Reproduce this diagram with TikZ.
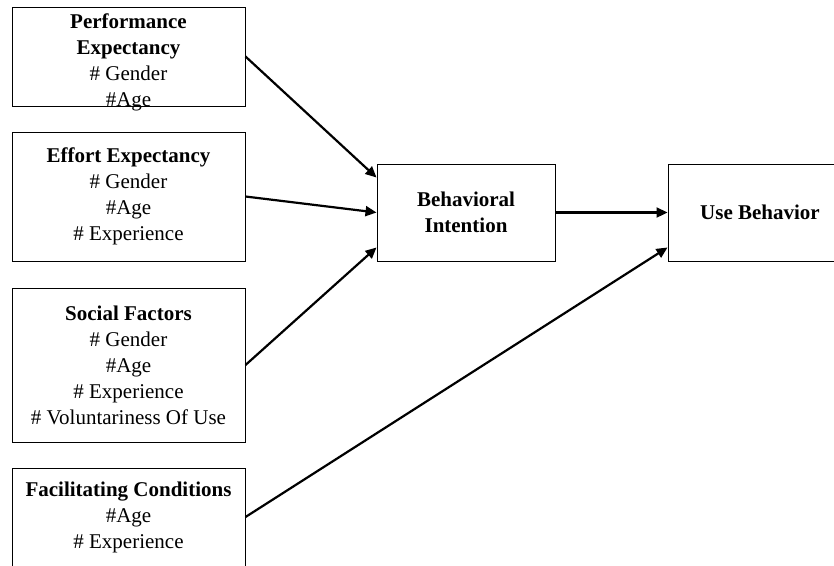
\documentclass[tikz,border=0pt]{standalone}
\usepackage{fontspec}
\setmainfont{Liberation Serif}
\usetikzlibrary{arrows.meta,positioning}

\begin{document}
\begin{tikzpicture}[x=1pt, y=-1pt,
block/.style = {rectangle, draw=black, line width=1pt, align=center, inner sep=0pt,
  font=\fontsize{21}{26}\selectfont},
link/.style = {-{Triangle[length=11pt,width=10pt]}, line width=2.2pt}]

\useasboundingbox (0,0) rectangle (834,565);
\clip (0,0) rectangle (834,565);

\node [block, minimum width=233pt, minimum height=97pt, text depth=0pt] at (128.5,56.5) (perf)
  {\\[-5pt]\textbf{Performance}\\\textbf{Expectancy}\\\# Gender\\\#Age};
\node [block, minimum width=233pt, minimum height=129pt] at (128.5,196.5) (effort)
  {\textbf{Effort Expectancy}\\\# Gender\\\#Age\\\# Experience};
\node [block, minimum width=233pt, minimum height=154pt] at (128.5,365) (social)
  {\textbf{Social Factors}\\\# Gender\\\#Age\\\# Experience\\\# Voluntariness Of Use};
\node [block, minimum width=233pt, minimum height=98pt] at (128.5,517) (facil)
  {\textbf{Facilitating Conditions}\\\#Age\\\# Experience};

\node [block, minimum width=178pt, minimum height=97pt] at (466,212.5) (intent)
  {\textbf{Behavioral}\\\textbf{Intention}};
\node [block, minimum width=184pt, minimum height=97pt] at (760,212.5) (usebeh)
  {\textbf{Use Behavior}};

\draw[link] (perf.east) -- ([yshift=35pt]intent.west);
\draw[link] (effort.east) -- (intent.west);
\draw[link] (social.east) -- ([yshift=-35pt]intent.west);
\draw[link] (intent.east) -- (usebeh.west);
\draw[link] (facil.east) -- ([yshift=-35pt]usebeh.west);

\end{tikzpicture}
\end{document}
